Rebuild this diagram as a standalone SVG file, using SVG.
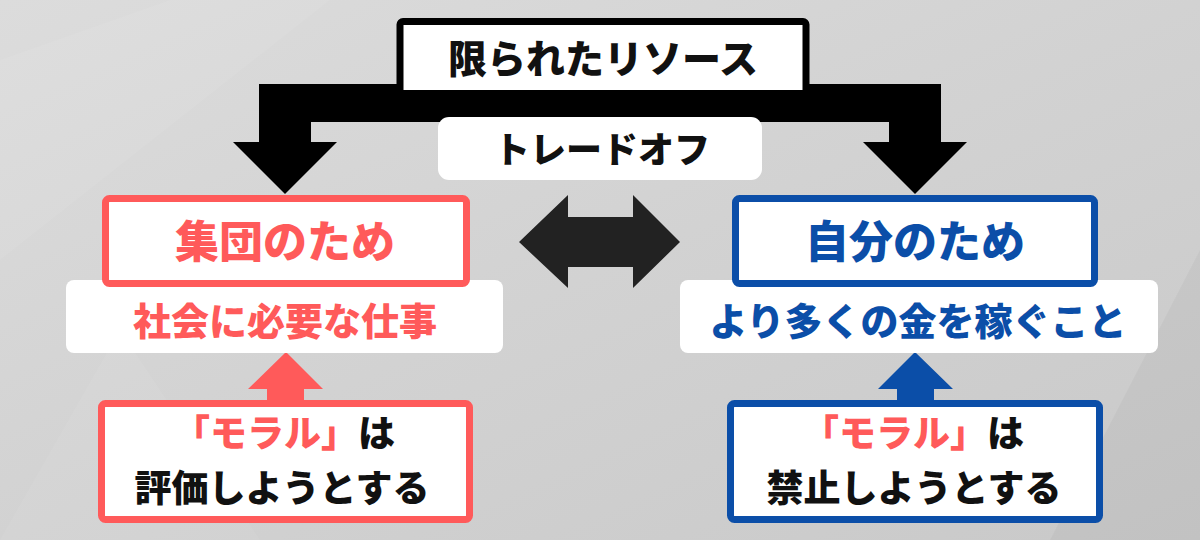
<svg xmlns="http://www.w3.org/2000/svg" width="1200" height="540" viewBox="0 0 1200 540">
<defs>
<linearGradient id="bg" x1="0" y1="0" x2="1" y2="1">
<stop offset="0" stop-color="#dcdcdc"/>
<stop offset="0.5" stop-color="#d2d2d2"/>
<stop offset="1" stop-color="#c9c9c9"/>
</linearGradient>
<style>
text{font-family:"Noto Sans CJK JP","Noto Sans",sans-serif;font-weight:900;text-anchor:middle}
.k{fill:#111}
.r{fill:#ff5a5a}
.b{fill:#0b4ea8}
.panel{fill:#ffffff}
</style>
</defs>
<rect width="1200" height="540" fill="url(#bg)"/>
<polygon points="0,60 170,0 330,0 0,260" fill="#ffffff" opacity="0.06"/>
<polygon points="0,540 120,330 260,540" fill="#ffffff" opacity="0.06"/>
<polygon points="1200,250 1050,540 1200,540" fill="#000000" opacity="0.03"/>
<g id="connectors">
<polygon points="259,84 941,84 941,142 967,142 915,194 863,142 889,142 889,122 311,122 311,142 337,142 285,194 233,142 259,142" fill="#000"/>
<polygon points="519,242 568,195 568,217 633,217 633,195 680,242 633,288 633,267 568,267 568,288" fill="#222"/>
<polygon points="286,352 323,389 304,389 304,402 267,402 267,389 248,389" fill="#ff5a5a"/>
<polygon points="915,352 953,389 934,389 934,402 897,402 897,389 878,389" fill="#0b4ea8"/>
</g>
<g id="resource">
<rect x="400" y="21.5" width="406" height="72" rx="3" fill="#fff" stroke="#000" stroke-width="7"/>
<text x="603" y="73" font-size="39" class="k">限られたリソース</text>
</g>
<g id="tradeoff">
<rect x="438" y="117" width="324" height="63" rx="11" class="panel"/>
<text x="602" y="163" font-size="36" class="k">トレードオフ</text>
</g>
<g id="group-sub">
<rect x="66" y="280" width="437" height="73" rx="8" class="panel"/>
<text x="285" y="335" font-size="38" class="r">社会に必要な仕事</text>
</g>
<g id="group">
<rect x="105.5" y="198.5" width="361" height="85" rx="4" fill="#fff" stroke="#ff5a5a" stroke-width="7"/>
<text x="285" y="258" font-size="44" class="r">集団のため</text>
</g>
<g id="self-sub">
<rect x="680" y="280" width="478" height="73" rx="8" class="panel"/>
<text x="918" y="335" font-size="38" class="b">より多くの金を稼ぐこと</text>
</g>
<g id="self">
<rect x="735.5" y="198.5" width="359" height="85" rx="4" fill="#fff" stroke="#0b4ea8" stroke-width="7"/>
<text x="915" y="258" font-size="44" class="b">自分のため</text>
</g>
<g id="moral-left">
<rect x="101.5" y="403.5" width="368" height="116" rx="4" fill="#fff" stroke="#ff5a5a" stroke-width="7"/>
<text x="284" y="447" font-size="37"><tspan class="r">「モラル」</tspan><tspan class="k">は</tspan></text>
<text x="282" y="502" font-size="37" class="k">評価しようとする</text>
</g>
<g id="moral-right">
<rect x="730.5" y="403.5" width="369" height="116" rx="4" fill="#fff" stroke="#0b4ea8" stroke-width="7"/>
<text x="913" y="447" font-size="37"><tspan class="r">「モラル」</tspan><tspan class="k">は</tspan></text>
<text x="914" y="502" font-size="37" class="k">禁止しようとする</text>
</g>
</svg>
